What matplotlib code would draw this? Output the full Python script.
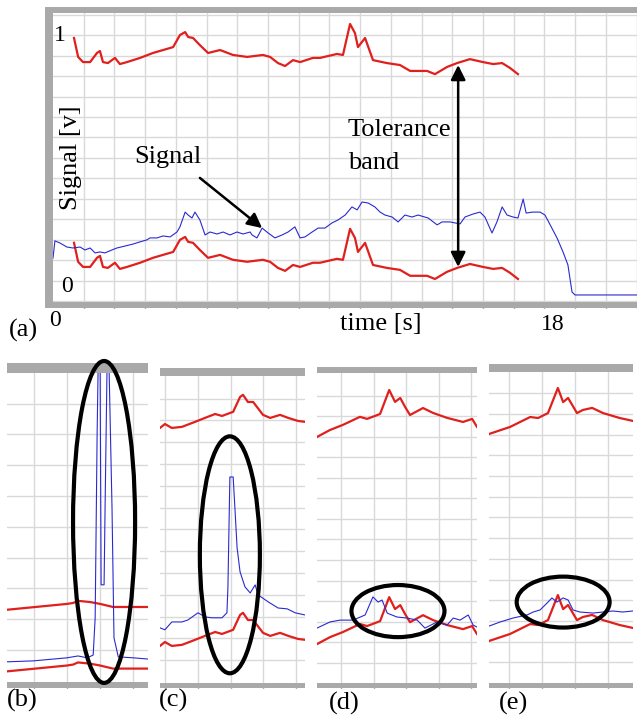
import matplotlib.pyplot as plt
from matplotlib.patches import Ellipse

W, H = 637, 719
plt.rcParams['font.family'] = ['Liberation Serif', 'DejaVu Serif']

RED = '#e0201c'
BLUE = '#2a2ad0'
GRAY = '#a9a9a9'
GRID = '#d9d9d9'

# ---- (a) whole run: time [s] / signal [V]
t_env = [0.77, 0.92, 1.10, 1.36, 1.61, 1.72, 1.83, 2.01, 2.27, 2.45, 2.71, 3.19, 3.66, 4.03,
         4.40, 4.65, 4.84, 4.95, 5.13, 5.38, 5.68, 6.12, 6.59, 7.11, 7.69, 7.95, 8.24, 8.50,
         8.79, 9.05, 9.52, 9.78, 10.40, 10.62, 10.88, 11.06, 11.17, 11.43, 11.72, 12.23,
         12.71, 13.08, 13.70, 13.99, 14.43, 14.80, 15.27, 15.75, 16.12, 16.45, 16.74, 17.03]
upper_a = [0.988, 0.911, 0.890, 0.890, 0.927, 0.935, 0.890, 0.886, 0.907, 0.882, 0.890,
           0.907, 0.927, 0.939, 0.951, 1.000, 1.012, 0.992, 0.988, 0.959, 0.927, 0.939,
           0.919, 0.911, 0.919, 0.911, 0.886, 0.874, 0.898, 0.890, 0.907, 0.907, 0.923,
           0.919, 1.045, 1.008, 0.951, 0.988, 0.898, 0.886, 0.878, 0.854, 0.854, 0.841,
           0.870, 0.886, 0.902, 0.890, 0.882, 0.886, 0.866, 0.841]
band_a = 0.833

t_sig = [0.0, 0.07, 0.26, 0.51, 0.73, 0.99, 1.17, 1.36, 1.54, 1.72, 1.90, 2.16, 2.34, 2.64,
         2.93, 3.19, 3.44, 3.55, 3.81, 4.03, 4.29, 4.54, 4.65, 4.84, 4.95, 5.09, 5.20, 5.38,
         5.57, 5.75, 6.01, 6.23, 6.48, 6.74, 6.96, 7.22, 7.29, 7.47, 7.66, 7.88, 8.13, 8.39,
         8.61, 8.86, 9.05, 9.23, 9.49, 9.71, 9.96, 10.22, 10.44, 10.70, 10.95, 11.14, 11.32,
         11.54, 11.79, 11.98, 12.16, 12.42, 12.64, 12.89, 13.15, 13.37, 13.74, 14.07, 14.25,
         14.54, 14.91, 15.09, 15.38, 15.64, 15.82, 16.08, 16.26, 16.45, 16.63, 16.85, 17.03,
         17.22, 17.33, 17.55, 17.84, 18.02, 18.21, 18.46, 18.68, 18.86, 19.01, 19.12, 19.67,
         21.39]
sig_a = [0.093, 0.163, 0.154, 0.138, 0.134, 0.138, 0.126, 0.134, 0.114, 0.118, 0.114, 0.126,
         0.134, 0.142, 0.150, 0.159, 0.167, 0.175, 0.175, 0.183, 0.179, 0.199, 0.220, 0.280,
         0.268, 0.256, 0.280, 0.248, 0.187, 0.199, 0.191, 0.199, 0.187, 0.199, 0.191, 0.199,
         0.187, 0.175, 0.215, 0.195, 0.175, 0.187, 0.199, 0.220, 0.175, 0.179, 0.199, 0.215,
         0.215, 0.236, 0.248, 0.268, 0.301, 0.289, 0.321, 0.317, 0.301, 0.280, 0.268, 0.260,
         0.240, 0.268, 0.260, 0.268, 0.256, 0.228, 0.240, 0.240, 0.232, 0.260, 0.272, 0.280,
         0.260, 0.195, 0.240, 0.301, 0.268, 0.260, 0.256, 0.333, 0.276, 0.280, 0.280, 0.268,
         0.228, 0.175, 0.118, 0.065, -0.045, -0.057, -0.057, -0.057]

# ---- (b)-(e) close-ups, in grid divisions
u_b_env = [0.18, 2.0, 2.18, 2.33, 2.70, 3.0, 3.39, 4.45]
up_b = [2.31, 2.50, 2.53, 2.60, 2.56, 2.50, 2.40, 2.40]
u_b_sig = [0.18, 0.97, 2.0, 2.33, 2.61, 2.79, 2.85, 2.91, 2.94, 3.0, 3.03, 3.12, 3.15, 3.21,
           3.27, 3.36, 3.42, 3.55, 4.0, 4.45]
sig_b = [0.62, 0.65, 0.75, 0.81, 0.75, 0.84, 2.05, 8.08, 10.2, 10.2, 3.12, 3.12, 5.62, 10.2,
         10.2, 5.62, 1.40, 0.78, 0.75, 0.71]

u_c_env = [-0.15, 0, 0.21, 0.52, 0.92, 1.22, 1.53, 1.74, 2.08, 2.29, 2.38, 2.53, 2.69, 2.99,
           3.21, 3.51, 3.76, 4.06, 4.27]
up_c = [11.65, 11.83, 11.65, 11.70, 11.93, 12.11, 12.29, 12.20, 12.39, 13.07, 13.17, 12.84,
        12.84, 12.25, 12.11, 12.25, 12.11, 11.97, 11.93]
u_c_sig = [-0.15, 0, 0.21, 0.52, 0.70, 1.01, 1.22, 1.44, 1.74, 1.89, 1.92, 1.98, 2.08, 2.14,
           2.20, 2.29, 2.44, 2.60, 2.75, 2.84, 3.15, 3.45, 3.73, 3.97, 4.27]
sig_c = [2.48, 2.39, 2.75, 2.75, 2.84, 3.17, 2.98, 2.94, 2.94, 3.17, 4.31, 9.40, 9.40, 7.80,
         6.15, 5.05, 4.36, 4.08, 4.45, 3.99, 3.67, 3.39, 3.35, 3.17, 3.07]

u_d_env = [0.26, 0.66, 1.06, 1.58, 1.80, 2.20, 2.48, 2.66, 2.82, 2.97, 3.12, 3.52, 3.83,
           4.26, 4.75, 5.03, 5.18]
up_d = [12.0, 12.34, 12.59, 12.98, 12.88, 13.12, 14.29, 13.71, 13.90, 13.46, 13.07, 13.41,
        13.17, 12.93, 12.73, 12.88, 12.49]
u_d_sig = [0.26, 0.66, 0.97, 1.37, 1.74, 1.98, 2.14, 2.26, 2.42, 2.72, 3.03, 3.34, 3.58,
           3.95, 4.26, 4.45, 4.66, 4.91, 5.06, 5.18]
sig_d = [2.68, 2.98, 3.07, 3.07, 3.32, 4.20, 3.95, 4.05, 3.41, 3.22, 3.17, 3.07, 2.68, 2.98,
         2.83, 3.17, 3.07, 3.32, 2.83, 2.73]

u_e_env = [0.39, 1.03, 1.64, 1.88, 2.18, 2.48, 2.64, 2.79, 3.06, 3.24, 3.52, 3.85, 4.36, 4.76]
up_e = [12.03, 12.37, 12.85, 12.80, 13.04, 14.25, 13.57, 13.77, 13.04, 13.19, 13.29, 13.04,
        12.80, 12.66]
u_e_sig = [0.39, 0.73, 1.12, 1.55, 1.73, 1.94, 2.15, 2.30, 2.45, 2.64, 2.79, 2.94, 3.15,
           3.55, 3.85, 4.15, 4.45, 4.76]
sig_e = [2.75, 2.95, 3.14, 3.29, 3.43, 3.53, 3.86, 4.11, 3.91, 4.11, 4.01, 3.53, 3.43, 3.38,
         3.43, 3.48, 3.43, 3.48]

panel_labels = ['(a)', '(b)', '(c)', '(d)', '(e)']


def px_axes(fig, x0, y0, x1, y1):
    return fig.add_axes([x0 / W, 1 - y1 / H, (x1 - x0) / W, (y1 - y0) / H])


def scope(ax, xlim, ylim, xg, yg, top_bar, bot_bar, left_bar=None):
    ax.set_xlim(*xlim)
    ax.set_ylim(*ylim)
    ax.set_xticks(xg)
    ax.set_yticks(yg)
    ax.grid(True, color=GRID, lw=1.0, zorder=0)
    ax.tick_params(axis='x', direction='in', length=3, width=1, color='#555555',
                   labelbottom=False, pad=0)
    ax.tick_params(axis='y', direction='in', length=3 if left_bar is not None else 0,
                   width=1, color='#555555', labelleft=False)
    for s in ax.spines.values():
        s.set_visible(False)
    ax.axhspan(top_bar, ylim[1], color=GRAY, lw=0, zorder=4)
    ax.axhspan(ylim[0], bot_bar, color=GRAY, lw=0, zorder=4)
    if left_bar is not None:
        ax.axvspan(xlim[0], left_bar, color=GRAY, lw=0, zorder=4)
    ax.set_axisbelow(True)


fig = plt.figure(figsize=(W / 100, H / 100), dpi=100)

# ---------------- panel (a)
ax = px_axes(fig, 45, 7, 637, 308)
scope(ax, (-0.293, 21.39), (-0.11, 1.114),
      [k * 1.125 for k in range(1, 20)], [k / 12 for k in range(-1, 14)],
      1.089, -0.085, left_bar=0.0)
ax.plot(t_env, upper_a, color=RED, lw=1.6, zorder=3)
ax.plot(t_env, [v - band_a for v in upper_a], color=RED, lw=1.6, zorder=3)
ax.plot(t_sig, sig_a, color=BLUE, lw=0.8, zorder=3)
ax.text(0.26, 1.0, '1', fontsize=17, ha='center', va='center', zorder=5)
ax.text(0.51, -0.024, '0', fontsize=17, ha='center', va='center', zorder=5)
ax.text(0.66, 0.50, 'Signal [v]', fontsize=19, rotation=90, ha='center', va='center', zorder=5)
ax.text(4.21, 0.504, 'Signal', fontsize=19, ha='center', va='center', zorder=5)
ax.annotate('', xy=(7.66, 0.215), xytext=(5.38, 0.419),
            arrowprops=dict(arrowstyle='-|>', color='k', lw=1.8, mutation_scale=22,
                            shrinkA=0, shrinkB=0), zorder=5)
ax.text(10.8, 0.614, 'Tolerance', fontsize=19, ha='left', va='center', zorder=5)
ax.text(10.8, 0.480, 'band', fontsize=19, ha='left', va='center', zorder=5)
ax.annotate('', xy=(14.84, 0.878), xytext=(14.84, 0.057),
            arrowprops=dict(arrowstyle='<|-|>', color='k', lw=1.8, mutation_scale=22,
                            shrinkA=0, shrinkB=0), zorder=5)

fig.text(55 / W, 1 - 320 / H, '0', fontsize=17, ha='center', va='center')
fig.text(381 / W, 1 - 324 / H, 'time [s]', fontsize=19, ha='center', va='center')
fig.text(553 / W, 1 - 324 / H, '18', fontsize=17, ha='center', va='center')
fig.text(23 / W, 1 - 330 / H, panel_labels[0], fontsize=19, ha='center', va='center')

# ---------------- close-ups (b)-(e)
panels = [
    dict(box=(7, 363, 148, 688), xlim=(0.18, 4.45), ylim=(-0.23, 10.32), xg=range(1, 5),
         yg=range(1, 10), top=10.0, bot=-0.05, u_env=u_b_env, up=up_b, band=2.0,
         u_sig=u_b_sig, sig=sig_b, ell=(3.12, 5.16, 1.88, 10.45), lab=(22, 700)),
    dict(box=(160, 368, 305, 688), xlim=(-0.15, 4.27), ylim=(-0.28, 14.4), xg=range(0, 5),
         yg=range(1, 14), top=14.04, bot=-0.05, u_env=u_c_env, up=up_c, band=10.0,
         u_sig=u_c_sig, sig=sig_c, ell=(1.98, 5.83, 1.83, 10.87), lab=(174, 700)),
    dict(box=(317, 367, 477, 688), xlim=(0.26, 5.18), ylim=(-0.24, 15.41), xg=range(1, 6),
         yg=range(1, 15), top=15.12, bot=0.0, u_env=u_d_env, up=up_d, band=10.1,
         u_sig=u_d_sig, sig=sig_d, ell=(2.75, 3.51, 2.86, 2.54), lab=(344, 703)),
    dict(box=(489, 364, 633, 688), xlim=(0.39, 4.76), ylim=(-0.24, 15.41), xg=range(1, 5),
         yg=range(1, 15), top=15.02, bot=0.0, u_env=u_e_env, up=up_e, band=10.0,
         u_sig=u_e_sig, sig=sig_e, ell=(2.64, 3.91, 2.82, 2.46), lab=(514, 703)),
]

for p, lab in zip(panels, panel_labels[1:]):
    ax = px_axes(fig, *p['box'])
    scope(ax, p['xlim'], p['ylim'], list(p['xg']), list(p['yg']), p['top'], p['bot'])
    ax.plot(p['u_env'], p['up'], color=RED, lw=1.6, zorder=3)
    ax.plot(p['u_env'], [v - p['band'] for v in p['up']], color=RED, lw=1.6, zorder=3)
    ax.plot(p['u_sig'], p['sig'], color=BLUE, lw=0.8, zorder=3)
    cx, cy, w, h = p['ell']
    ax.add_patch(Ellipse((cx, cy), w, h, fill=False, ec='k', lw=3.0, zorder=6, clip_on=False))
    fig.text(p['lab'][0] / W, 1 - p['lab'][1] / H, lab, fontsize=19, ha='center', va='center')

fig.savefig('out.png', dpi=100)
